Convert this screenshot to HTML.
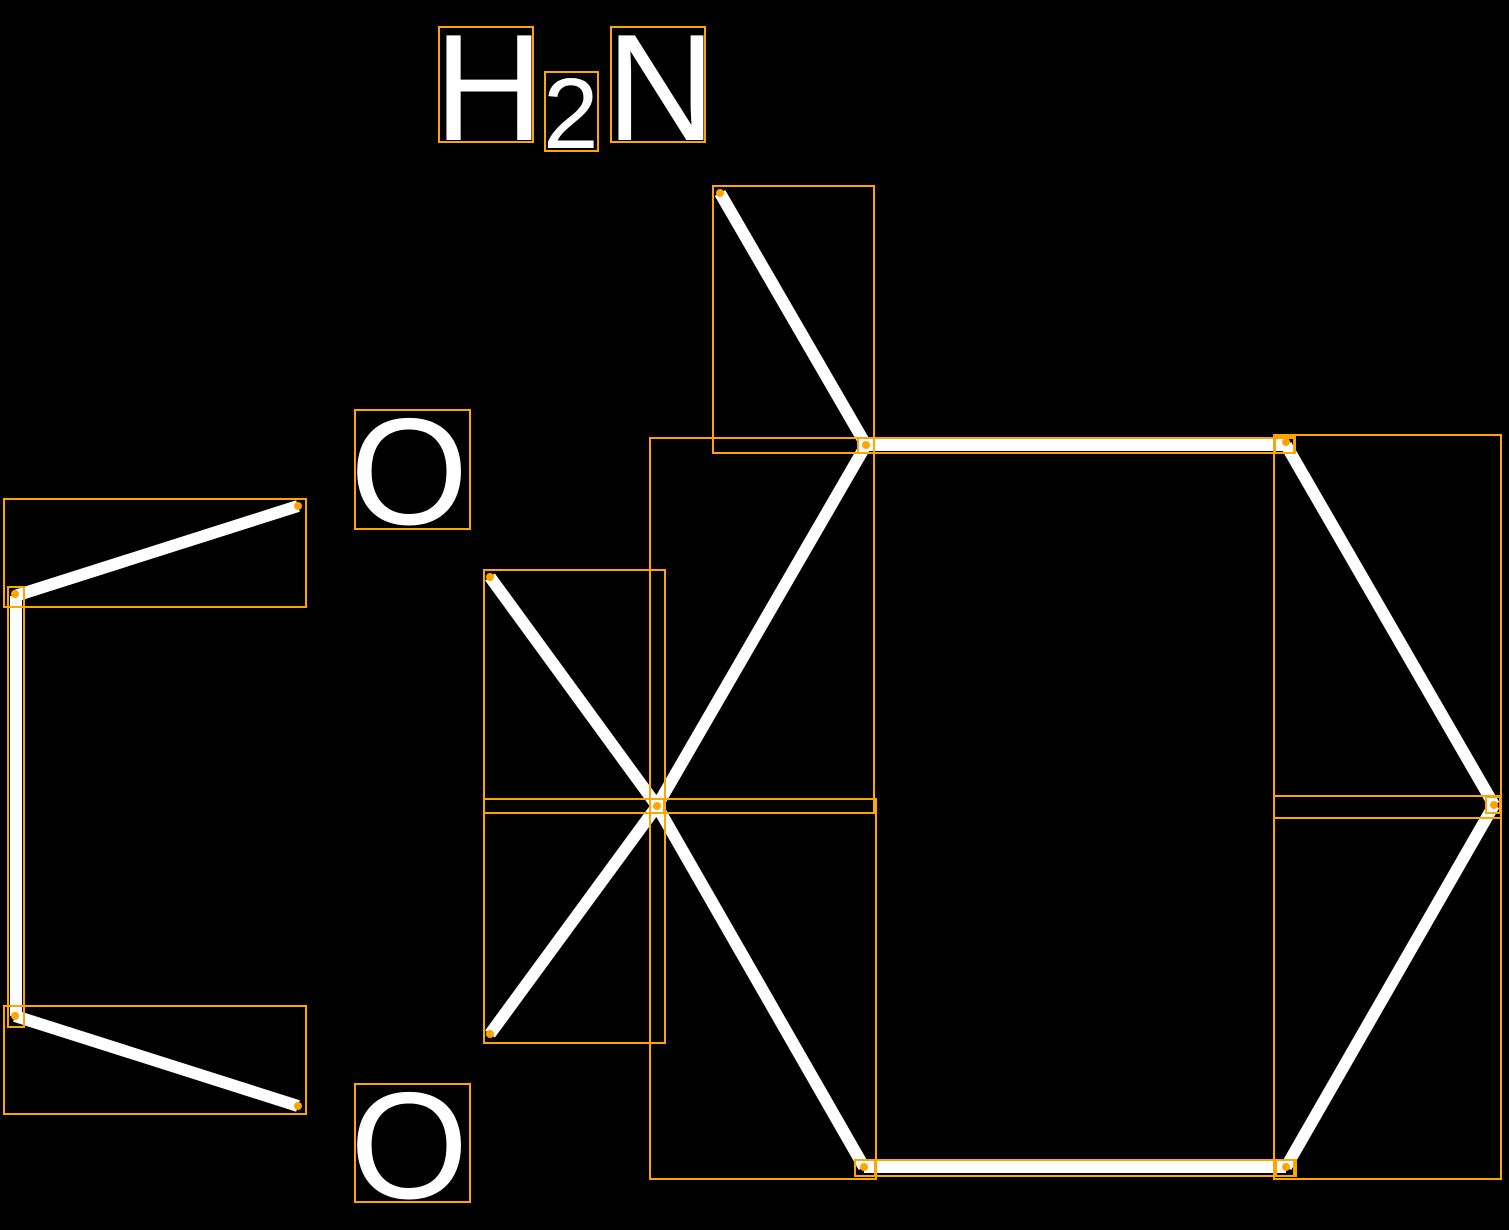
<!DOCTYPE html>
<html><head><meta charset="utf-8"><style>
html,body{margin:0;padding:0;background:#000;}
svg{display:block;}
text{font-family:"Liberation Sans",sans-serif;fill:#fff;}
</style></head><body>
<svg width="1509" height="1230" viewBox="0 0 1509 1230" xmlns="http://www.w3.org/2000/svg">
<rect width="1509" height="1230" fill="#000"/>
<g stroke="#fff" stroke-width="12" stroke-linecap="butt" fill="none">
<line x1="720" y1="193" x2="866" y2="445"/>
<line x1="866" y1="445" x2="1286" y2="445"/>
<line x1="1286" y1="445" x2="1494" y2="805"/>
<line x1="1494" y1="805" x2="1286" y2="1167"/>
<line x1="1286" y1="1167" x2="864" y2="1167"/>
<line x1="864" y1="1167" x2="657" y2="806"/>
<line x1="657" y1="806" x2="866" y2="445"/>
<line x1="657" y1="806" x2="490" y2="577"/>
<line x1="657" y1="806" x2="490" y2="1034"/>
<line x1="298" y1="506" x2="15" y2="596"/>
<line x1="16" y1="596" x2="16" y2="1016"/>
<line x1="15" y1="1016" x2="298" y2="1106"/>
</g>
<text x="434" y="140" font-size="152">H</text>
<text x="543" y="148" font-size="100">2</text>
<text x="606" y="140" font-size="152">N</text>
<text x="350" y="524" font-size="152">O</text>
<text x="350" y="1198" font-size="152">O</text>
<g stroke="#FFA500" stroke-width="2" fill="none">
<rect x="439" y="27" width="94" height="115"/>
<rect x="545" y="72" width="53" height="79"/>
<rect x="611" y="27" width="94" height="115"/>
<rect x="355" y="410" width="115" height="119"/>
<rect x="355" y="1084" width="115" height="118"/>
<rect x="713" y="186" width="161" height="267"/>
<rect x="650" y="438" width="224" height="375"/>
<rect x="484" y="570" width="181" height="243"/>
<rect x="484" y="799" width="181" height="244"/>
<rect x="650" y="799" width="226" height="380"/>
<rect x="1274" y="435" width="227" height="383"/>
<rect x="1274" y="796" width="227" height="383"/>
<rect x="4" y="499" width="302" height="108"/>
<rect x="4" y="1006" width="302" height="108"/>
<rect x="858" y="438" width="436" height="15"/>
<rect x="855" y="1160" width="439" height="16"/>
<rect x="8" y="587" width="16" height="440"/>
<rect x="858" y="438" width="16" height="15"/>
<rect x="1275" y="437" width="20" height="16"/>
<rect x="855" y="1160" width="20" height="16"/>
<rect x="1276" y="1160" width="20" height="16"/>
<rect x="650" y="799" width="14" height="14"/>
<rect x="1486" y="797" width="14" height="16"/>
</g>
<g fill="#FFA500">
<circle cx="720" cy="193" r="4"/><circle cx="866" cy="445" r="4"/>
<circle cx="1286" cy="442" r="4"/><circle cx="1494" cy="805" r="4"/>
<circle cx="1286" cy="1167" r="4"/><circle cx="864" cy="1167" r="4"/>
<circle cx="657" cy="806" r="4"/><circle cx="490" cy="577" r="4"/>
<circle cx="490" cy="1034" r="4"/><circle cx="298" cy="506" r="4"/>
<circle cx="15" cy="594" r="4"/><circle cx="15" cy="1016" r="4"/>
<circle cx="298" cy="1106" r="4"/>
</g>
</svg>
</body></html>
